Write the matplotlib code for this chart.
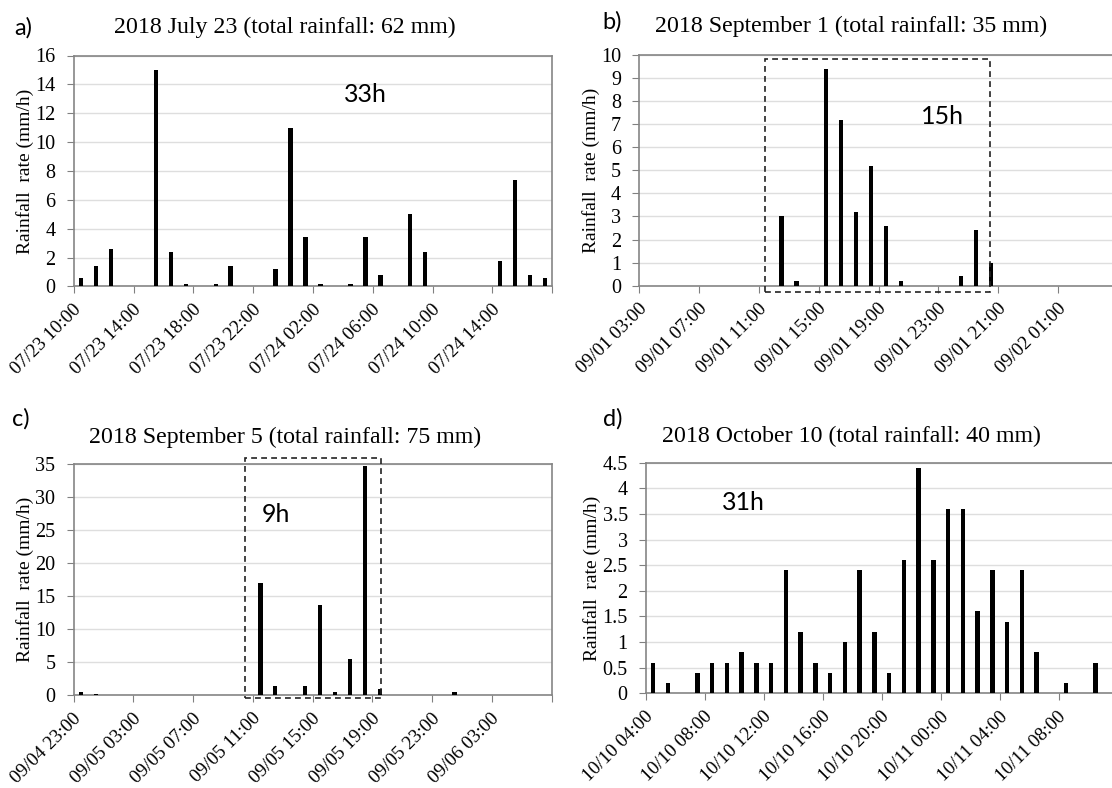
import matplotlib
matplotlib.use("Agg")
import matplotlib.pyplot as plt
from matplotlib.patches import Rectangle
import numpy as np

# Hourly rainfall (mm/h), one value per hour, 32 hours per event
rain_a = [0.6, 1.4, 2.6, 0, 0, 15, 2.4, 0.2, 0, 0.2, 1.4, 0, 0, 1.2, 11, 3.4,
          0.2, 0, 0.2, 3.4, 0.8, 0, 5, 2.4, 0, 0, 0, 0, 1.8, 7.4, 0.8, 0.6]
rain_b = [0, 0, 0, 0, 0, 0, 0, 0, 0, 3.0, 0.2, 0, 9.4, 7.2, 3.2, 5.2,
          2.6, 0.2, 0, 0, 0, 0.4, 2.4, 1.0, 0, 0, 0, 0, 0, 0, 0, 0]
rain_c = [0.4, 0.2, 0, 0, 0, 0, 0, 0, 0, 0, 0, 0, 17, 1.4, 0, 1.4,
          13.6, 0.4, 5.4, 34.7, 0.9, 0, 0, 0, 0, 0.4, 0, 0, 0, 0, 0, 0]
rain_d = [0.6, 0.2, 0, 0.4, 0.6, 0.6, 0.8, 0.6, 0.6, 2.4, 1.2, 0.6, 0.4, 1.0, 2.4, 1.2,
          0.4, 2.6, 4.4, 2.6, 3.6, 3.6, 1.6, 2.4, 1.4, 2.4, 0.8, 0, 0.2, 0, 0.6, 0]

labels_a = ["07/23 10:00", "07/23 14:00", "07/23 18:00", "07/23 22:00",
            "07/24 02:00", "07/24 06:00", "07/24 10:00", "07/24 14:00"]
labels_b = ["09/01 03:00", "09/01 07:00", "09/01 11:00", "09/01 15:00",
            "09/01 19:00", "09/01 23:00", "09/01 21:00", "09/02 01:00"]
labels_c = ["09/04 23:00", "09/05 03:00", "09/05 07:00", "09/05 11:00",
            "09/05 15:00", "09/05 19:00", "09/05 23:00", "09/06 03:00"]
labels_d = ["10/10 04:00", "10/10 08:00", "10/10 12:00", "10/10 16:00",
            "10/10 20:00", "10/11 00:00", "10/11 04:00", "10/11 08:00"]

titles = ["2018 July 23 (total rainfall: 62 mm)",
          "2018 September 1 (total rainfall: 35 mm)",
          "2018 September 5 (total rainfall: 75 mm)",
          "2018 October 10 (total rainfall: 40 mm)"]
letters = ["a)", "b)", "c)", "d)"]
durations = ["33h", "15h", "9h", "31h"]

SERIF = ["Liberation Serif", "DejaVu Serif"]
SANS = ["Lato", "DejaVu Sans"]
W, H = 1112, 788

fig = plt.figure(figsize=(W / 100, H / 100), dpi=100)


def px_axes(left, top, width, height):
    return fig.add_axes([left / W, 1 - (top + height) / H, width / W, height / H])


def panel(ax, values, labels, ymax, ystep):
    n = len(values)
    x = np.arange(n)
    ax.bar(x, values, width=0.3, color="black", zorder=3)
    ax.set_xlim(-0.5, n - 0.5)
    ax.set_ylim(0, ymax)
    yt = np.arange(0, ymax + ystep / 2, ystep)
    ax.set_yticks(yt)
    ax.set_yticklabels([f"{v:g}" for v in yt], fontfamily=SERIF, fontsize=14.5)
    ax.yaxis.grid(True, color="#dedede", linewidth=1.0, zorder=0)
    ax.set_axisbelow(True)
    # category-boundary ticks every 4 hours, labels hung below at 45 degrees
    ticks = np.arange(-0.5, n, 4)
    ax.set_xticks(ticks)
    ax.set_xticklabels([])
    for t, lab in zip(ticks, labels):
        ax.annotate(lab, xy=(t, 0), xycoords=("data", "axes fraction"),
                    xytext=(-0.7, -10.6), textcoords="offset points",
                    fontfamily=SERIF, fontsize=13.8, rotation=45,
                    ha="right", va="top", rotation_mode="anchor",
                    annotation_clip=False)
    ax.tick_params(axis="x", direction="out", length=5, color="#808080", pad=4)
    ax.tick_params(axis="y", direction="out", length=5, color="#808080", pad=8)
    for s in ax.spines.values():
        s.set_color("#858585")
        s.set_linewidth(1.2)
    ax.set_ylabel("Rainfall  rate (mm/h)", fontfamily=SERIF, fontsize=14, labelpad=1)


ax_a = px_axes(73.7, 55.5, 478.6, 231)
ax_b = px_axes(639.3, 55, 478.6, 230.7)
ax_c = px_axes(73.5, 464, 478.2, 231)
ax_d = px_axes(645.7, 462.7, 472.0, 230.6)

panel(ax_a, rain_a, labels_a, 16, 2)
panel(ax_b, rain_b, labels_b, 10, 1)
panel(ax_c, rain_c, labels_c, 35, 5)
panel(ax_d, rain_d, labels_d, 4.5, 0.5)

# titles, panel letters and event durations (figure pixel positions)
title_pos = [(285, 27), (851, 26), (285, 437), (851, 436)]
letter_pos = [(14, 28), (602, 22), (12, 419), (603, 419)]
dur_pos = [(344, 94), (921, 117), (262, 515), (722, 502)]
for t, (x, y) in zip(titles, title_pos):
    fig.text(x / W, 1 - y / H, t, fontfamily=SERIF, fontsize=17.2,
             ha="center", va="center")
for t, (x, y) in zip(letters, letter_pos):
    fig.text(x / W, 1 - y / H, t, fontfamily=SANS, fontsize=17,
             ha="left", va="center")
for t, (x, y) in zip(durations, dur_pos):
    fig.text(x / W, 1 - y / H, t, fontfamily=SANS, fontsize=18,
             ha="left", va="center")

# dashed boxes marking the main rain period
box_style = dict(fill=False, edgecolor="#222222", linewidth=1.2,
                 linestyle=(0, (3.5, 2.5)), clip_on=False, zorder=4)
ax_b.add_patch(Rectangle((7.9, -0.26), 22.94 - 7.9, 9.81 + 0.26, **box_style))
ax_c.add_patch(Rectangle((11.0, -0.45), 20.07 - 11.0, 35.9 + 0.45, **box_style))

fig.savefig("out.png", dpi=100)
